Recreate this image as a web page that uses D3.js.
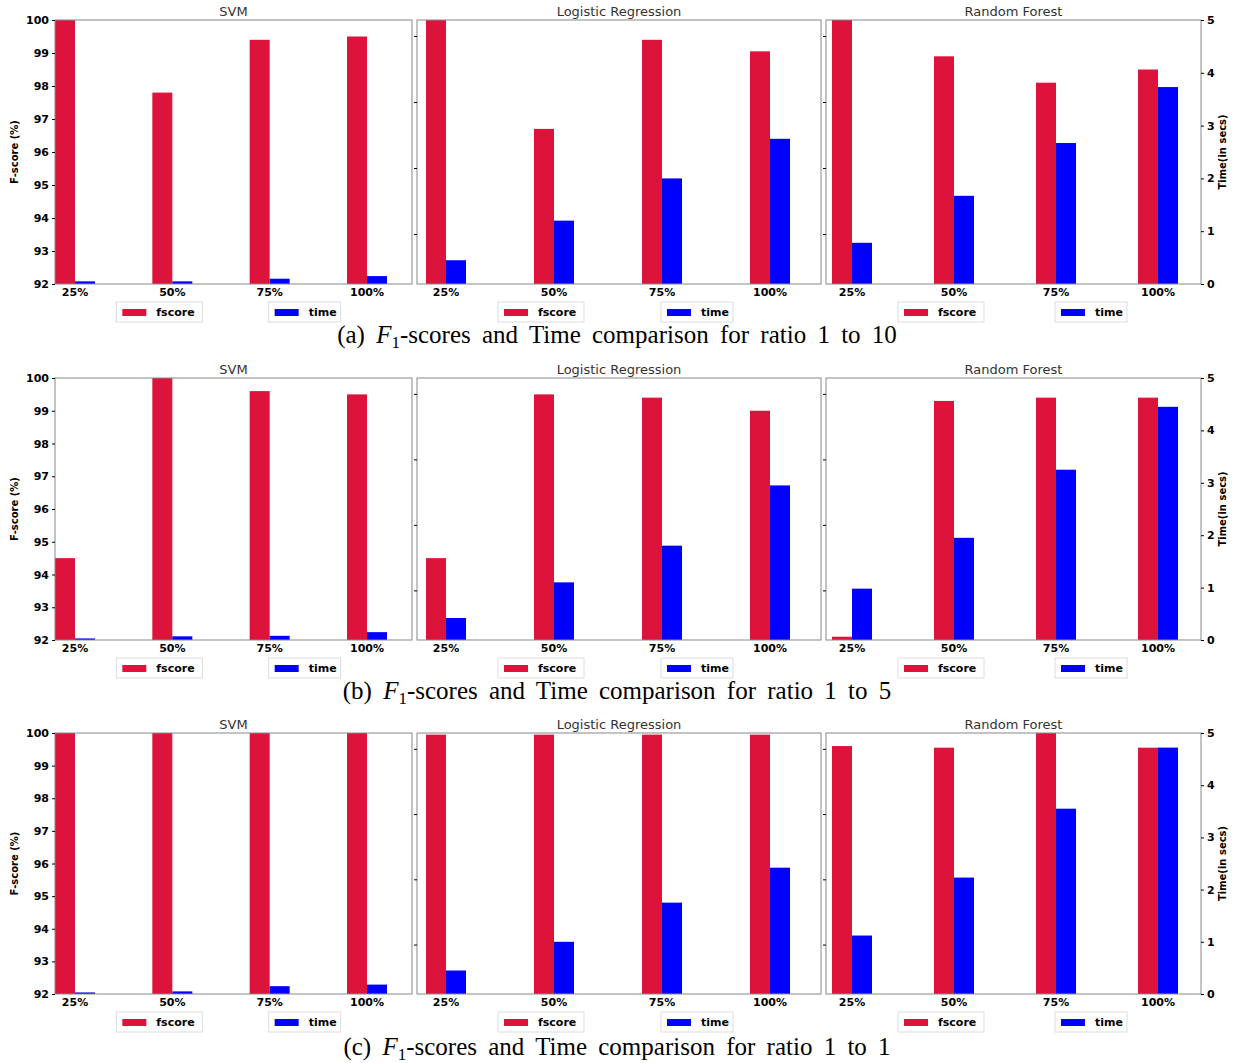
<!DOCTYPE html>
<html><head><meta charset="utf-8">
<script src="https://cdn.jsdelivr.net/npm/d3@7"></script>
<style>body{margin:0;background:#fff}</style>
</head><body>
<script>
const sizes = ['25%', '50%', '75%', '100%'];
const models = ['SVM', 'Logistic Regression', 'Random Forest'];
const fTicks = [92, 93, 94, 95, 96, 97, 98, 99, 100];
const tTicks = [0, 1, 2, 3, 4, 5];
const captions = ['(a)|1 to 10', '(b)|1 to 5', '(c)|1 to 1'];

// fscore per row, per model
const fscoreA = [[100, 97.8, 99.4, 99.5], [100.5, 96.7, 99.4, 99.05], [100.5, 98.9, 98.1, 98.5]];
const timeA = [[0.05, 0.05, 0.1, 0.15], [0.45, 1.2, 2.0, 2.75], [0.78, 1.67, 2.67, 3.73]];
const fscoreB = [[94.5, 100, 99.6, 99.5], [94.5, 99.5, 99.4, 99.0], [92.1, 99.3, 99.4, 99.4]];
const timeB = [[0.03, 0.07, 0.08, 0.15], [0.42, 1.1, 1.8, 2.95], [0.98, 1.95, 3.25, 4.45]];
const fscoreC = [[100, 100, 100, 100], [99.95, 99.95, 99.95, 99.95], [99.6, 99.55, 100, 99.55]];
const timeC = [[0.03, 0.05, 0.15, 0.18], [0.45, 1.0, 1.75, 2.42], [1.12, 2.23, 3.55, 4.72]];

const rows = [
  {f: fscoreA, t: timeA, top: 20, bottom: 284, legend: 312, cap: 343},
  {f: fscoreB, t: timeB, top: 378, bottom: 640, legend: 668, cap: 699},
  {f: fscoreC, t: timeC, top: 733, bottom: 994, legend: 1022, cap: 1055}
];
const panels = [
  {x0: 55, x1: 412, first: 75, last: 367},
  {x0: 417, x1: 821, first: 446, last: 770},
  {x0: 826, x1: 1201, first: 852, last: 1158}
];

const svg = d3.select('body').append('svg').attr('width', 1235).attr('height', 1063)
  .style('font-family', 'DejaVu Sans, sans-serif');

rows.forEach((row, r) => {
  const y = d3.scaleLinear().domain([92, 100]).range([row.bottom, row.top]);
  const yt = d3.scaleLinear().domain([0, 5]).range([row.bottom, row.top]);
  panels.forEach((p, m) => {
    const x = d3.scaleLinear().domain([0, 3]).range([p.first, p.last]);
    const bw = 20;
    const g = svg.append('g');
    const cid = 'clip' + r + m;
    g.append('clipPath').attr('id', cid).append('rect')
      .attr('x', p.x0).attr('y', row.top).attr('width', p.x1 - p.x0).attr('height', row.bottom - row.top);
    const bars = g.append('g').attr('clip-path', 'url(#' + cid + ')');
    bars.selectAll('.f').data(row.f[m]).enter().append('rect')
      .attr('x', (d, i) => x(i) - bw).attr('width', bw)
      .attr('y', d => y(d)).attr('height', d => row.bottom - y(d)).attr('fill', '#dc143c');
    bars.selectAll('.t').data(row.t[m]).enter().append('rect')
      .attr('x', (d, i) => x(i)).attr('width', bw)
      .attr('y', d => yt(d)).attr('height', d => row.bottom - yt(d)).attr('fill', '#0000ff');
    g.append('rect').attr('x', p.x0).attr('y', row.top).attr('width', p.x1 - p.x0)
      .attr('height', row.bottom - row.top).attr('fill', 'none').attr('stroke', '#888').attr('stroke-width', 1);
    g.selectAll('.xl').data(sizes).enter().append('text')
      .attr('x', (d, i) => x(i)).attr('y', row.bottom + 12).attr('text-anchor', 'middle')
      .attr('font-size', 11).attr('font-weight', 'bold').text(d => d);
    g.append('text').attr('x', (p.x0 + p.x1) / 2).attr('y', row.top - 4).attr('text-anchor', 'middle')
      .attr('font-size', 13).attr('fill', '#333').text(models[m]);
    if (m === 0) {
      const ax = g.append('g').attr('transform', `translate(${p.x0},0)`)
        .call(d3.axisLeft(y).tickValues(fTicks).tickSize(3).tickFormat(d3.format('d')));
      ax.select('.domain').remove();
      ax.selectAll('text').attr('font-size', 11).attr('font-weight', 'bold').attr('font-family', 'DejaVu Sans');
      g.append('text').attr('transform', `translate(18,${(row.top + row.bottom) / 2}) rotate(-90)`)
        .attr('text-anchor', 'middle').attr('font-size', 10).attr('font-weight', 'bold').text('F-score (%)');
    } else {
      g.selectAll('.tk').data([93.5, 95.5, 97.5, 99.5]).enter().append('line')
        .attr('x1', p.x0 - 3).attr('x2', p.x0).attr('y1', d => y(d)).attr('y2', d => y(d)).attr('stroke', '#000');
    }
    if (m === 2) {
      const ax = g.append('g').attr('transform', `translate(${p.x1},0)`)
        .call(d3.axisRight(yt).tickValues(tTicks).tickSize(3).tickFormat(d3.format('d')));
      ax.select('.domain').remove();
      ax.selectAll('text').attr('font-size', 11).attr('font-weight', 'bold').attr('font-family', 'DejaVu Sans');
      g.append('text').attr('transform', `translate(1226,${(row.top + row.bottom) / 2}) rotate(-90)`)
        .attr('text-anchor', 'middle').attr('font-size', 10).attr('font-weight', 'bold').text('Time(in secs)');
    }
    // legend
    const lx = [x(1) - 50, x(2) + 5];
    [['fscore', '#dc143c'], ['time', '#0000ff']].forEach((it, k) => {
      const lg = g.append('g').attr('transform', `translate(${lx[k]},${row.legend})`);
      lg.append('rect').attr('x', -6).attr('y', -10).attr('width', k ? 72 : 86).attr('height', 20)
        .attr('fill', '#fff').attr('stroke', '#ddd');
      lg.append('rect').attr('x', 0).attr('y', -3).attr('width', 24).attr('height', 7).attr('fill', it[1]);
      lg.append('text').attr('x', 34).attr('y', 4).attr('font-size', 11).attr('font-weight', 'bold').text(it[0]);
    });
  });
  const c = captions[r].split('|');
  const t = svg.append('text').attr('x', 617).attr('y', row.cap).attr('text-anchor', 'middle')
    .attr('font-family', 'Liberation Serif, serif').attr('font-size', 25).attr('word-spacing', 5);
  t.append('tspan').text(c[0] + ' ');
  t.append('tspan').attr('font-style', 'italic').text('F');
  t.append('tspan').attr('font-size', 17).attr('dy', 5).text('1');
  t.append('tspan').attr('dy', -5).text('-scores and Time comparison for ratio ' + c[1]);
});
</script>
</body></html>
